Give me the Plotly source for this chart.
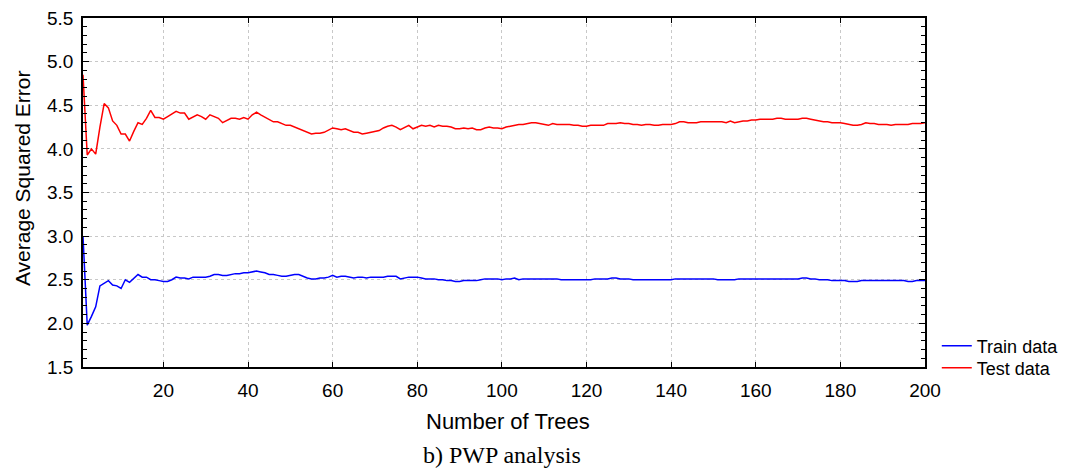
import plotly.graph_objects as go

trees = list(range(1, 201))

test_data = [
    4.85, 3.93, 4.00, 3.94, 4.25, 4.52, 4.47, 4.32, 4.27, 4.17,
    4.17, 4.09, 4.20, 4.30, 4.28, 4.35, 4.44, 4.36, 4.36, 4.34,
    4.37, 4.40, 4.43, 4.41, 4.41, 4.34, 4.37, 4.39, 4.37, 4.34,
    4.39, 4.37, 4.35, 4.30, 4.33, 4.35, 4.35, 4.34, 4.36, 4.34,
    4.39, 4.42, 4.39, 4.36, 4.33, 4.31, 4.31, 4.29, 4.27, 4.27,
    4.25, 4.23, 4.21, 4.19, 4.17, 4.18, 4.18, 4.19, 4.22, 4.24,
    4.23, 4.22, 4.23, 4.21, 4.19, 4.19, 4.17, 4.18, 4.19, 4.20,
    4.21, 4.24, 4.26, 4.27, 4.25, 4.22, 4.25, 4.27, 4.23, 4.25,
    4.27, 4.26, 4.27, 4.25, 4.27, 4.26, 4.26, 4.25, 4.23, 4.23,
    4.24, 4.23, 4.24, 4.22, 4.22, 4.24, 4.25, 4.24, 4.24, 4.23,
    4.25, 4.26, 4.27, 4.28, 4.28, 4.29, 4.30, 4.30, 4.29, 4.28,
    4.27, 4.29, 4.28, 4.28, 4.28, 4.28, 4.27, 4.27, 4.26, 4.26,
    4.27, 4.27, 4.27, 4.27, 4.29, 4.29, 4.29, 4.30, 4.29, 4.29,
    4.28, 4.28, 4.27, 4.28, 4.28, 4.27, 4.27, 4.28, 4.28, 4.28,
    4.29, 4.31, 4.31, 4.30, 4.30, 4.30, 4.31, 4.31, 4.31, 4.31,
    4.31, 4.31, 4.30, 4.32, 4.30, 4.31, 4.32, 4.32, 4.33, 4.33,
    4.34, 4.34, 4.34, 4.34, 4.35, 4.35, 4.34, 4.34, 4.34, 4.34,
    4.35, 4.35, 4.34, 4.33, 4.32, 4.31, 4.31, 4.30, 4.30, 4.30,
    4.29, 4.28, 4.27, 4.27, 4.28, 4.30, 4.29, 4.29, 4.28, 4.28,
    4.28, 4.27, 4.28, 4.28, 4.28, 4.28, 4.29, 4.29, 4.29, 4.30,
]

train_data = [
    3.00, 1.98, 2.08, 2.19, 2.43, 2.46, 2.49, 2.44, 2.43, 2.40,
    2.50, 2.47, 2.52, 2.56, 2.53, 2.53, 2.50, 2.50, 2.49, 2.48,
    2.48, 2.50, 2.53, 2.52, 2.52, 2.51, 2.53, 2.53, 2.53, 2.53,
    2.54, 2.56, 2.56, 2.55, 2.55, 2.56, 2.57, 2.57, 2.58, 2.58,
    2.59, 2.60, 2.59, 2.58, 2.56, 2.56, 2.55, 2.54, 2.54, 2.55,
    2.56, 2.56, 2.54, 2.52, 2.51, 2.51, 2.52, 2.52, 2.53, 2.55,
    2.53, 2.54, 2.54, 2.53, 2.52, 2.53, 2.53, 2.52, 2.53, 2.53,
    2.53, 2.53, 2.54, 2.54, 2.54, 2.51, 2.52, 2.53, 2.53, 2.53,
    2.52, 2.51, 2.51, 2.51, 2.50, 2.50, 2.49, 2.49, 2.48, 2.48,
    2.49, 2.49, 2.49, 2.49, 2.50, 2.51, 2.51, 2.51, 2.51, 2.50,
    2.51, 2.51, 2.52, 2.50, 2.51, 2.51, 2.51, 2.51, 2.51, 2.51,
    2.51, 2.51, 2.51, 2.50, 2.50, 2.50, 2.50, 2.50, 2.50, 2.50,
    2.50, 2.51, 2.51, 2.51, 2.51, 2.52, 2.52, 2.51, 2.51, 2.51,
    2.50, 2.50, 2.50, 2.50, 2.50, 2.50, 2.50, 2.50, 2.50, 2.50,
    2.51, 2.51, 2.51, 2.51, 2.51, 2.51, 2.51, 2.51, 2.51, 2.51,
    2.50, 2.50, 2.50, 2.50, 2.50, 2.51, 2.51, 2.51, 2.51, 2.51,
    2.51, 2.51, 2.51, 2.51, 2.51, 2.51, 2.51, 2.51, 2.51, 2.51,
    2.52, 2.52, 2.51, 2.51, 2.50, 2.50, 2.50, 2.49, 2.49, 2.49,
    2.49, 2.48, 2.48, 2.48, 2.49, 2.49, 2.49, 2.49, 2.49, 2.49,
    2.49, 2.49, 2.49, 2.49, 2.49, 2.48, 2.48, 2.49, 2.49, 2.49,
]

x_ticks = [20, 40, 60, 80, 100, 120, 140, 160, 180, 200]
y_ticks = [1.5, 2.0, 2.5, 3.0, 3.5, 4.0, 4.5, 5.0, 5.5]
y_tick_labels = ["1.5", "2.0", "2.5", "3.0", "3.5", "4.0", "4.5", "5.0", "5.5"]

FONT = "Liberation Sans, Arial, sans-serif"
SERIF = "Liberation Serif, Times New Roman, serif"

fig = go.Figure()
fig.add_trace(go.Scatter(x=trees, y=train_data, mode="lines", name="Train data",
                         line=dict(color="#0000ff", width=1.5), legend="legend"))
fig.add_trace(go.Scatter(x=trees, y=test_data, mode="lines", name="Test data",
                         line=dict(color="#ff0000", width=1.5), legend="legend2"))

legend_common = dict(xanchor="left", yanchor="middle",
                     font=dict(family=FONT, size=18), bgcolor="rgba(0,0,0,0)",
                     itemwidth=30, borderwidth=0)

fig.update_layout(
    width=1075, height=471,
    margin=dict(l=83, r=150, t=18, b=104, autoexpand=False),
    paper_bgcolor="white", plot_bgcolor="white",
    font=dict(family=FONT, size=19, color="black"),
    showlegend=True,
    legend=dict(x=1.014, y=0.060, **legend_common),
    legend2=dict(x=1.014, y=-0.003, **legend_common),
    xaxis=dict(
        range=[1, 200], tickvals=x_ticks, ticktext=[str(v) for v in x_ticks],
        showline=True, linecolor="black", linewidth=1.5, mirror="allticks",
        ticks="inside", ticklen=5, tickcolor="black", tickwidth=1,
        showgrid=True, gridcolor="#c8c8c8", griddash="dot", gridwidth=1,
        zeroline=False, ticklabelstandoff=5,
        tickfont=dict(family=FONT, size=19),
    ),
    yaxis=dict(
        range=[1.5, 5.5], tickvals=y_ticks, ticktext=y_tick_labels,
        showline=True, linecolor="black", linewidth=1.5, mirror="allticks",
        ticks="inside", ticklen=6, tickcolor="black", tickwidth=1,
        minor=dict(dtick=0.1, ticks="inside", ticklen=4, tickcolor="black", showgrid=False),
        showgrid=True, gridcolor="#c8c8c8", griddash="dot", gridwidth=1,
        zeroline=False, ticklabelstandoff=4,
        tickfont=dict(family=FONT, size=19),
    ),
    annotations=[
        dict(text="Number of Trees", xref="paper", yref="paper",
             x=0.505, y=-0.155, xanchor="center", yanchor="middle",
             showarrow=False, font=dict(family=FONT, size=22)),
        dict(text="Average Squared Error", xref="paper", yref="paper",
             x=-0.0724, y=0.5415, xanchor="center", yanchor="middle",
             textangle=-90, showarrow=False, font=dict(family=FONT, size=21)),
        dict(text="b) PWP analysis", xref="paper", yref="paper",
             x=0.498, y=-0.252, xanchor="center", yanchor="middle",
             showarrow=False, font=dict(family=SERIF, size=24)),
    ],
)

fig.write_html("out.html")
